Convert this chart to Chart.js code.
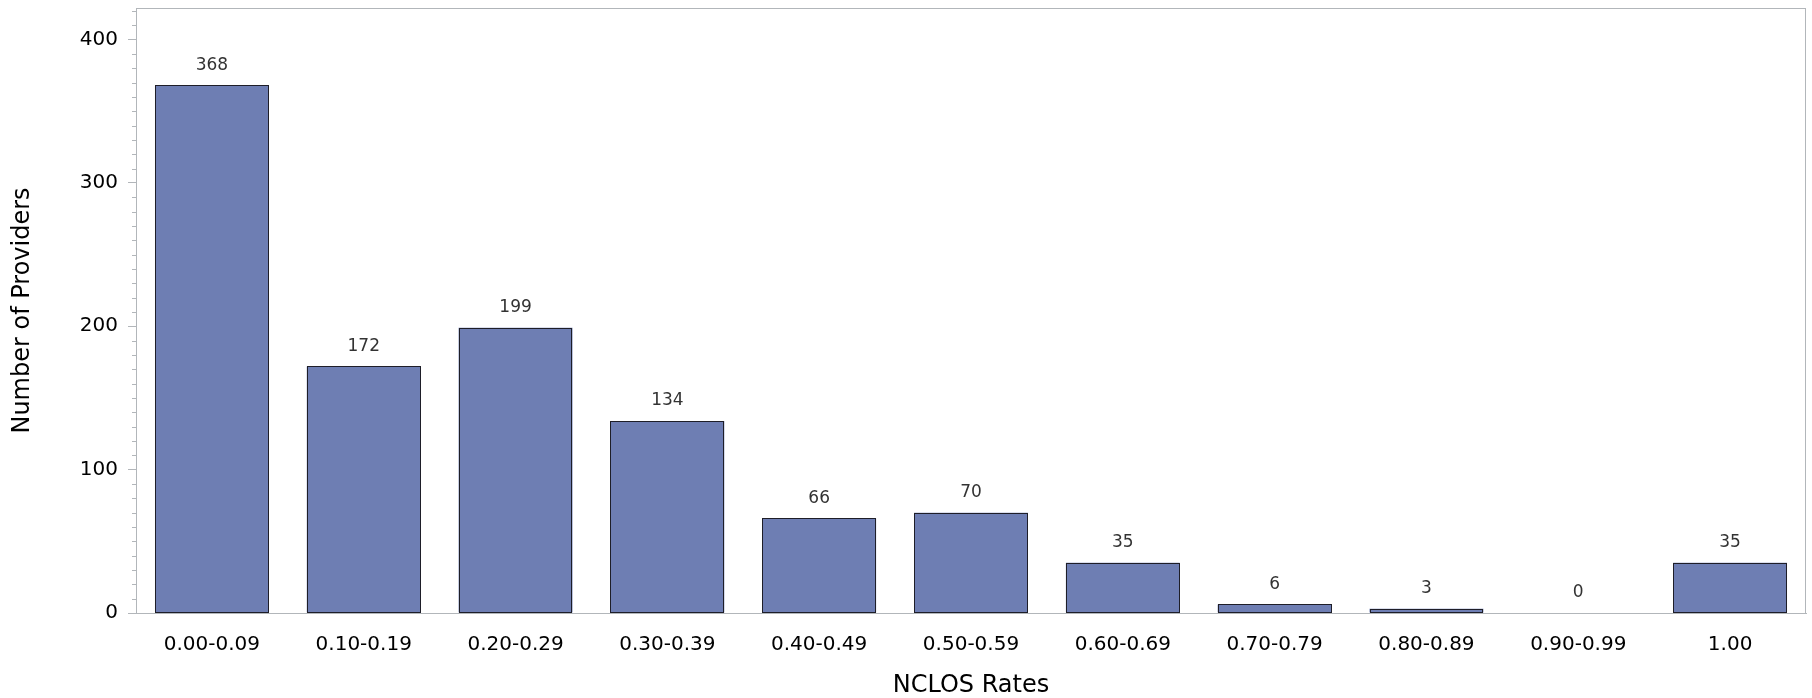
<!DOCTYPE html>
<html>
<head>
<meta charset="utf-8">
<script src="https://cdn.jsdelivr.net/npm/chart.js@4"></script>
<style>
  html, body { margin: 0; padding: 0; background: #fff; }
  #wrap { width: 1812px; height: 698px; }
</style>
</head>
<body>
<div id="wrap"><canvas id="nclosChart"></canvas></div>
<script>
// data
const rateBins = ["0.00-0.09", "0.10-0.19", "0.20-0.29", "0.30-0.39", "0.40-0.49",
                  "0.50-0.59", "0.60-0.69", "0.70-0.79", "0.80-0.89", "0.90-0.99", "1.00"];
const providerCounts = [368, 172, 199, 134, 66, 70, 35, 6, 3, 0, 35];
const yTickValues = [0, 100, 200, 300, 400];

const axisGray = "#b2b6ba";
const barEdge = "#1e1e28";
const fontFam = "'DejaVu Sans', Verdana, sans-serif";

// frame round the plot area, minor ticks, crisp bar outlines and value labels
const extras = {
    id: "extras",
    afterDraw(chart) {
        const ctx = chart.ctx;
        const area = chart.chartArea;
        const y = chart.scales.y;

        ctx.save();
        ctx.strokeStyle = axisGray;
        ctx.lineWidth = 1;
        ctx.strokeRect(area.left + 0.5, area.top + 0.5, area.right - area.left - 1, area.bottom - area.top);

        // minor ticks every 10
        for (let v = 10; v <= y.max; v += 10) {
            if (v % 100 === 0) continue;
            const py = Math.round(y.getPixelForValue(v)) + 0.5;
            ctx.beginPath();
            ctx.moveTo(area.left - 4, py);
            ctx.lineTo(area.left, py);
            ctx.stroke();
        }

        const meta = chart.getDatasetMeta(0);

        // bar outlines, snapped to pixels
        ctx.strokeStyle = barEdge;
        meta.data.forEach(function (bar, i) {
            if (providerCounts[i] === 0) return;
            const x0 = Math.round(bar.x - bar.width / 2) + 0.5;
            const x1 = Math.round(bar.x + bar.width / 2) - 0.5;
            const yTop = Math.round(bar.y) + 0.5;
            const yBot = Math.round(bar.base) - 0.5;
            ctx.strokeRect(x0, yTop, x1 - x0, yBot - yTop);
        });

        // bar value labels
        ctx.fillStyle = "#333";
        ctx.font = "17px " + fontFam;
        ctx.textAlign = "center";
        ctx.textBaseline = "middle";
        meta.data.forEach(function (bar, i) {
            ctx.fillText(String(providerCounts[i]), bar.x, bar.y - 20);
        });
        ctx.restore();
    }
};

new Chart(document.getElementById("nclosChart"), {
    type: "bar",
    data: {
        labels: rateBins,
        datasets: [{
            data: providerCounts,
            backgroundColor: "#6e7eb3",
            borderWidth: 0,
            categoryPercentage: 0.75,
            barPercentage: 1.0
        }]
    },
    options: {
        responsive: true,
        maintainAspectRatio: false,
        animation: false,
        layout: { padding: { top: 8, right: 6, left: 0, bottom: 0 } },
        plugins: {
            legend: { display: false },
            tooltip: { enabled: false }
        },
        scales: {
            x: {
                grid: { display: false },
                border: { color: axisGray },
                ticks: {
                    color: "#000",
                    font: { family: fontFam, size: 20 },
                    padding: 12,
                    maxRotation: 0,
                    autoSkip: false
                },
                title: {
                    display: true,
                    text: "NCLOS Rates",
                    color: "#000",
                    font: { family: fontFam, size: 24, lineHeight: 1 },
                    padding: { top: 0, bottom: 0 }
                },
                afterFit: function (scale) {
                    scale.height = 85;
                    scale.paddingLeft = 0;
                    scale.paddingRight = 0;
                }
            },
            y: {
                min: 0,
                max: 422,
                afterBuildTicks: function (scale) {
                    scale.ticks = yTickValues.map(v => ({ value: v }));
                },
                grid: { drawOnChartArea: false, tickLength: 8, color: axisGray },
                border: { color: axisGray },
                ticks: {
                    color: "#000",
                    font: { family: fontFam, size: 20 },
                    padding: 10
                },
                title: {
                    display: true,
                    text: "Number of Providers",
                    color: "#000",
                    font: { family: fontFam, size: 24, lineHeight: 1 },
                    padding: { top: 11, bottom: 0 }
                },
                afterFit: function (scale) {
                    scale.width = 136;
                    scale.paddingTop = 0;
                    scale.paddingBottom = 0;
                }
            }
        }
    },
    plugins: [extras]
});
</script>
</body>
</html>
